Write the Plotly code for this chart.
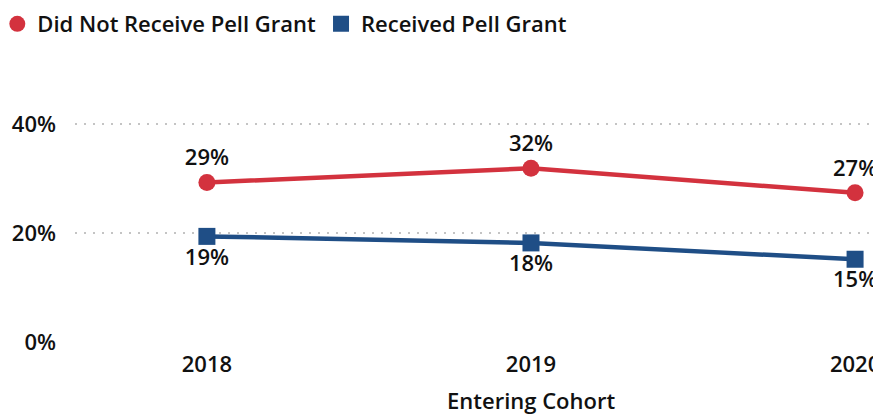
import plotly.graph_objects as go

cohorts = ["2018", "2019", "2020"]
not_pell = [29.3, 31.9, 27.4]
pell = [19.4, 18.2, 15.2]
not_pell_labels = ["29%", "32%", "27%"]
pell_labels = ["19%", "18%", "15%"]
y_ticks = [0, 20, 40]
y_tick_labels = ["0%", "20%", "40%"]
x_title = "Entering Cohort"

RED = "#D3323E"
BLUE = "#1F4E86"
TXT = "#111111"
FONT = "Open Sans"
FS = 22

# the page body adds an 8px offset, so the figure is sized/placed to compensate
W, H = 873, 406
ML, MT, MB = 67, 89, 72
PLOT_W = W - ML
PLOT_H = H - MT - MB

fig = go.Figure()
fig.add_trace(go.Scatter(
    x=cohorts, y=not_pell, name="Did Not Receive Pell Grant", showlegend=False,
    mode="lines+markers+text", text=not_pell_labels, textposition="top center",
    line=dict(color=RED, width=4.5), marker=dict(symbol="circle", size=17, color=RED),
    textfont=dict(family=FONT, size=FS, color=TXT, weight=600), cliponaxis=False,
))
fig.add_trace(go.Scatter(
    x=cohorts, y=pell, name="Received Pell Grant", showlegend=False,
    mode="lines+markers+text", text=pell_labels, textposition="bottom center",
    line=dict(color=BLUE, width=4.5), marker=dict(symbol="square", size=17, color=BLUE),
    textfont=dict(family=FONT, size=FS, color=TXT, weight=600), cliponaxis=False,
))
# legend-only entries (marker only, as in the reference legend)
fig.add_trace(go.Scatter(x=[None], y=[None], mode="markers", name="Did Not Receive Pell Grant",
                         marker=dict(symbol="circle", size=20, color=RED)))
fig.add_trace(go.Scatter(x=[None], y=[None], mode="markers", name="Received Pell Grant",
                         marker=dict(symbol="square", size=20, color=BLUE)))

fig.add_annotation(x=cohorts.index("2019"), xref="x", y=((H - MB) - 392) / PLOT_H, yref="paper",
                   yanchor="middle", text=x_title, showarrow=False,
                   font=dict(family=FONT, size=22, color=TXT, weight=600))

fig.update_layout(
    width=W, height=H,
    margin=dict(l=ML, r=0, t=MT, b=MB, autoexpand=False),
    plot_bgcolor="white", paper_bgcolor="white",
    font=dict(family=FONT, size=FS, color=TXT, weight=600),
    showlegend=True,
    legend=dict(orientation="h", x=(-10.7 - ML) / PLOT_W, xanchor="left",
                y=1 + (MT + 5) / PLOT_H, yanchor="top",
                xref="paper", yref="paper", itemwidth=30,
                font=dict(family=FONT, size=22, color=TXT, weight=600),
                tracegroupgap=0, bgcolor="rgba(0,0,0,0)"),
    xaxis=dict(type="category", range=[-0.407, 2.08], showgrid=False, showline=False,
               ticks="", zeroline=False, automargin=False, ticklabelstandoff=7,
               tickfont=dict(family=FONT, size=FS, color=TXT, weight=600)),
    yaxis=dict(range=[0, 45], tickvals=y_ticks, ticktext=y_tick_labels, automargin=False,
               showgrid=True, gridcolor="#C4C4C4", griddash="2px,7px", gridwidth=1.5,
               zeroline=False, showline=False, ticks="", ticklabelstandoff=18,
               tickfont=dict(family=FONT, size=FS, color=TXT, weight=600)),
)

fig.write_html("out.html")
